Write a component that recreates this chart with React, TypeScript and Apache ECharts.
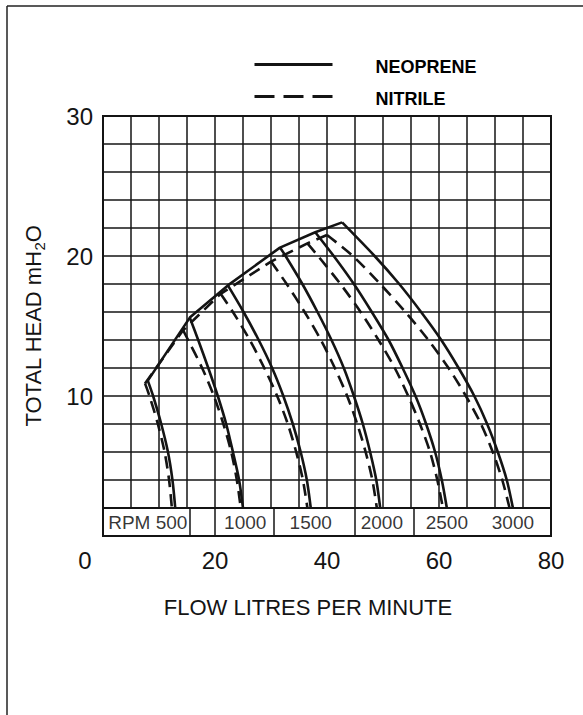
import React, { useEffect, useRef } from 'react';
import * as echarts from 'echarts';

// ---- axis ticks / labels ----
const xLabelTicks = [0, 20, 40, 60, 80];
const yLabelTicks = [10, 20, 30];
const rpmLabels = ['RPM 500', '1000', '1500', '2000', '2500', '3000'];
const rpmLabelX = [8.0, 25.4, 37.1, 49.8, 61.4, 73.2];
const rpmDividers = [15.5, 20, 30.5, 45, 55.5];

// ---- NEOPRENE (solid) curves: [flow, head] ----
const neo500 = [[8.0, 11.1], [8.95, 10], [10.4, 8], [11.6, 6], [12.4, 4], [12.9, 2]];
const neo1000 = [[15.5, 15.6], [17.0, 14], [18.8, 12], [20.5, 10], [22.0, 8], [23.2, 6], [24.3, 4], [25.0, 2]];
const neo1500 = [[22.3, 17.9], [25.1, 16], [27.8, 14], [30.2, 12], [32.2, 10], [33.9, 8], [35.3, 6], [36.4, 4], [37.1, 2]];
const neo2000 = [[31.6, 20.6], [32.6, 20], [35.6, 18], [38.3, 16], [40.8, 14], [43.0, 12], [44.8, 10], [46.4, 8], [47.7, 6], [48.8, 4], [49.5, 2]];
const neo2500 = [[37.9, 21.7], [41.2, 20], [44.8, 18], [48.0, 16], [51.0, 14], [53.5, 12], [55.8, 10], [57.7, 8], [59.3, 6], [60.5, 4], [61.4, 2]];
const neo3000 = [[42.7, 22.4], [48.5, 20], [52.9, 18], [56.8, 16], [60.4, 14], [63.5, 12], [66.3, 10], [68.6, 8], [70.5, 6], [72.1, 4], [73.2, 2]];
const neoEnvelope = [[8.0, 11.1], [15.5, 15.6], [22.3, 17.9], [31.6, 20.6], [37.9, 21.7], [42.7, 22.4]];

// ---- NITRILE (dashed) curves ----
const nit500 = [[7.5, 10.9], [8.3, 10], [9.8, 8], [11.0, 6], [11.8, 4], [12.3, 2]];
const nit1000 = [[14.3, 14.7], [15.2, 14], [17.7, 12], [19.8, 10], [21.5, 8], [22.9, 6], [23.9, 4], [24.6, 2]];
const nit1500 = [[21.0, 17.3], [23.2, 16], [26.2, 14], [28.8, 12], [31.1, 10], [33.0, 8], [34.5, 6], [35.7, 4], [36.5, 2]];
const nit2000 = [[30.0, 19.6], [32.8, 18], [36.0, 16], [38.9, 14], [41.4, 12], [43.6, 10], [45.4, 8], [46.9, 6], [48.1, 4], [48.9, 2]];
const nit2500 = [[36.5, 20.9], [38.4, 20], [42.4, 18], [46.0, 16], [49.2, 14], [52.1, 12], [54.5, 10], [56.6, 8], [58.4, 6], [59.7, 4], [60.7, 2]];
const nit3000 = [[40.0, 21.5], [44.6, 20], [49.5, 18], [54.0, 16], [58.1, 14], [61.7, 12], [64.8, 10], [67.5, 8], [69.6, 6], [71.3, 4], [72.6, 2]];
const nitEnvelope = [[7.5, 10.9], [14.3, 14.7], [21.0, 17.3], [30.0, 19.6], [36.5, 20.9], [40.0, 21.5]];

const neoCurves = [neo500, neo1000, neo1500, neo2000, neo2500, neo3000];
const nitCurves = [nit500, nit1000, nit1500, nit2000, nit2500, nit3000];

const FONT = '"Liberation Sans", Arial, Helvetica, sans-serif';
const INK = '#141414';

export default function App() {
  const ref = useRef<HTMLDivElement>(null);

  useEffect(() => {
    document.body.style.margin = '0';
    if (!ref.current) return;
    const chart = echarts.init(ref.current, undefined, { renderer: 'svg' });

    const solid = { color: INK, width: 2.6, type: 'solid' as const };
    const dashed = { color: INK, width: 2.6, type: [12, 7] as any };

    const lineSeries = (name: string, data: number[][], style: any, smooth: boolean) => ({
      name,
      type: 'line',
      data,
      symbol: 'none',
      smooth: smooth ? 0.3 : false,
      lineStyle: style,
      itemStyle: { color: INK },
      silent: true,
      z: 4,
    });

    const series: any[] = [
      {
        name: 'rpm',
        type: 'scatter',
        symbolSize: 0,
        silent: true,
        z: 3,
        data: rpmLabelX.map((x, i) => ({ value: [x, 1], label: { formatter: rpmLabels[i] } })),
        label: {
          show: true,
          position: 'inside',
          fontSize: 19,
          fontFamily: FONT,
          color: '#000',
        },
        markArea: {
          silent: true,
          itemStyle: { color: '#ffffff', borderColor: INK, borderWidth: 2 },
          data: [[{ coord: [0, 0] }, { coord: [80, 2] }]],
        },
        markLine: {
          silent: true,
          symbol: 'none',
          label: { show: false },
          lineStyle: { color: INK, width: 1.5, type: 'solid' },
          data: rpmDividers.map((x) => [{ coord: [x, 0] }, { coord: [x, 2] }]),
        },
      },
      ...neoCurves.map((c) => lineSeries('NEOPRENE', c, solid, true)),
      lineSeries('NEOPRENE', neoEnvelope, solid, false),
      ...nitCurves.map((c) => lineSeries('NITRILE', c, dashed, true)),
      lineSeries('NITRILE', nitEnvelope, dashed, false),
    ];

    chart.setOption({
      animation: false,
      backgroundColor: '#ffffff',
      grid: {
        left: 103,
        top: 116,
        right: 32,
        bottom: 179,
        show: true,
        borderColor: INK,
        borderWidth: 2,
        backgroundColor: 'transparent',
      },
      legend: {
        data: [
          { name: 'NEOPRENE', lineStyle: { width: 3 } },
          { name: 'NITRILE', lineStyle: { width: 3, type: [20, 9] } },
        ],
        orient: 'vertical',
        left: 248,
        top: 53,
        itemWidth: 78,
        itemHeight: 14,
        itemGap: 14,
        selectedMode: false,
        itemStyle: { opacity: 0 },
        formatter: (n: string) => `{t|${n}}`,
        textStyle: {
          rich: {
            t: {
              fontSize: 18,
              fontWeight: 'bold',
              fontFamily: FONT,
              color: '#000',
              padding: [5, 0, 0, 38],
            },
          },
        },
      },
      xAxis: {
        type: 'value',
        min: 0,
        max: 80,
        interval: 5,
        name: 'FLOW LITRES PER MINUTE',
        nameLocation: 'middle',
        nameGap: 60,
        nameTextStyle: { fontSize: 22, fontFamily: FONT, color: INK, padding: [0, 38, 0, 0] },
        axisLine: { show: false },
        axisTick: { show: false },
        axisLabel: {
          margin: 12,
          fontSize: 24,
          fontFamily: FONT,
          color: INK,
          formatter: (v: number) =>
            xLabelTicks.includes(v) ? (v === 0 ? '{z|0}' : String(v)) : '',
          rich: { z: { fontSize: 24, fontFamily: FONT, color: INK, padding: [0, 36, 0, 0] } },
        },
        splitLine: { show: true, lineStyle: { color: INK, width: 1.5 } },
      },
      yAxis: {
        type: 'value',
        min: 0,
        max: 30,
        interval: 2,
        name: 'TOTAL HEAD mH{s|2}O',
        nameLocation: 'middle',
        nameRotate: 90,
        nameGap: 56,
        nameTextStyle: {
          fontSize: 22,
          fontFamily: FONT,
          color: INK,
          rich: { s: { fontSize: 15, fontFamily: FONT, color: INK, padding: [12, 0, 0, 0] } },
        },
        axisLine: { show: false },
        axisTick: { show: false },
        axisLabel: {
          margin: 10,
          fontSize: 24,
          fontFamily: FONT,
          color: INK,
          formatter: (v: number) => (yLabelTicks.includes(v) ? String(v) : ''),
        },
        splitLine: { show: true, lineStyle: { color: INK, width: 1.5 } },
      },
      graphic: [
        { type: 'line', shape: { x1: 7, y1: 6, x2: 583, y2: 6 }, style: { stroke: '#222', lineWidth: 1.5 }, silent: true },
        { type: 'line', shape: { x1: 7, y1: 6, x2: 7, y2: 715 }, style: { stroke: '#222', lineWidth: 1.5 }, silent: true },
      ],
      series,
    });

    return () => chart.dispose();
  }, []);

  return <div ref={ref} style={{ width: 583, height: 715 }} />;
}
